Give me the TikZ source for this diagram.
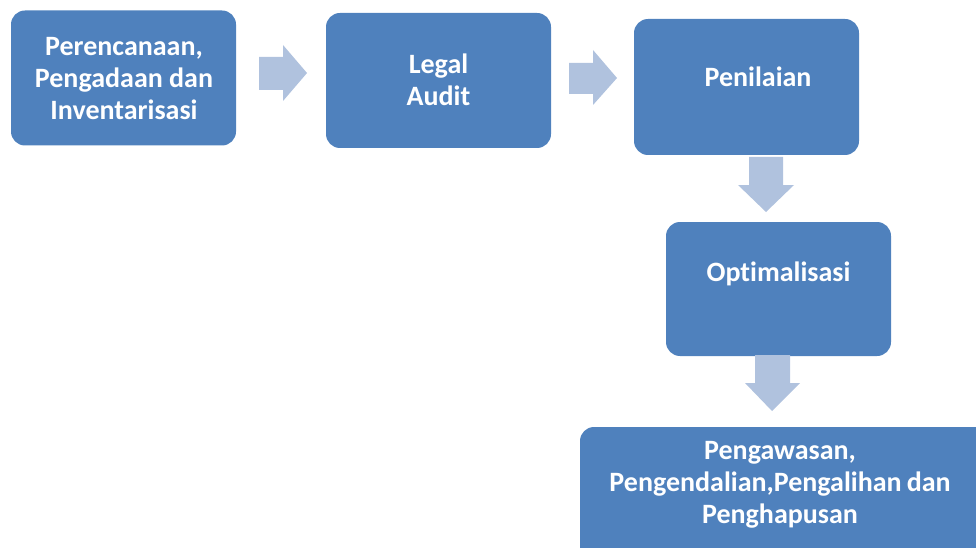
\documentclass[tikz,border=0pt]{standalone}
\usepackage{fontspec}
\setmainfont{Carlito}[Ligatures=NoCommon]
\usetikzlibrary{calc}
\definecolor{boxblue}{HTML}{4F81BD}
\definecolor{arrowblue}{HTML}{B0C2DE}
\begin{document}
\begin{tikzpicture}[x=1pt,y=-1pt,
  box/.style={fill=boxblue,rounded corners=14pt,inner sep=0pt,draw=none},
  txt/.style={text=white,font=\bfseries\fontsize{28}{32}\selectfont,align=center,inner sep=0pt},
  blockarrow/.style={fill=arrowblue,draw=none}]
\useasboundingbox (0,0) rectangle (976,548);
\clip (0,0) rectangle (976,548);
% boxes
\node[box,minimum width=225pt,minimum height=135pt] (b1) at (123.5,78) {};
\node[box,minimum width=225pt,minimum height=135pt] (b2) at (438.5,80.5) {};
\node[box,minimum width=225pt,minimum height=136pt] (b3) at (746.5,87) {};
\node[box,minimum width=225pt,minimum height=134pt] (b4) at (778.5,289) {};
\node[box,minimum width=420pt,minimum height=160pt] (b5) at (790,507) {};
% texts
\node[txt] (t1) at (124,79) {Perencanaan,\\Pengadaan dan\\Inventarisasi};
\node[txt] (t2) at (438.5,80) {Legal\\Audit};
\node[txt] (t3) at (758,77) {Penilaian};
\node[txt] (t4) at (778.5,274) {Optimalisasi};
\node[txt] (t5) at (780,485) {Pengawasan,\\Pengendalian,Pengalihan\hspace{0.18em}dan\\Penghapusan};
% block arrows
\fill[blockarrow] (259,57) -- (283,57) -- (283,45) -- (307,73) -- (283,101) -- (283,90) -- (259,90) -- cycle;
\fill[blockarrow] (569,63) -- (593,63) -- (593,50) -- (617,78) -- (593,105) -- (593,94) -- (569,94) -- cycle;
\fill[blockarrow] (749,157) -- (783,157) -- (783,185) -- (794,185) -- (766,212) -- (738,185) -- (749,185) -- cycle;
\fill[blockarrow] (755,355) -- (790,355) -- (790,383) -- (800,383) -- (772,411) -- (745,383) -- (755,383) -- cycle;
\end{tikzpicture}
\end{document}
